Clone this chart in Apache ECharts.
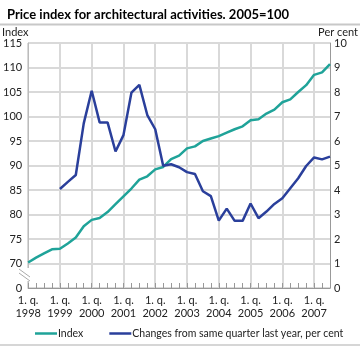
<!DOCTYPE html>
<html><head><meta charset="utf-8">
<script src="https://cdn.jsdelivr.net/npm/echarts@6/dist/echarts.min.js"></script>
<style>html,body{margin:0;padding:0;background:#fff}#c{width:360px;height:346px}</style>
</head><body><div id="c"></div>
<script>
var categories = [
 '1998Q1','1998Q2','1998Q3','1998Q4','1999Q1','1999Q2','1999Q3','1999Q4',
 '2000Q1','2000Q2','2000Q3','2000Q4','2001Q1','2001Q2','2001Q3','2001Q4',
 '2002Q1','2002Q2','2002Q3','2002Q4','2003Q1','2003Q2','2003Q3','2003Q4',
 '2004Q1','2004Q2','2004Q3','2004Q4','2005Q1','2005Q2','2005Q3','2005Q4',
 '2006Q1','2006Q2','2006Q3','2006Q4','2007Q1','2007Q2','2007Q3'];
var indexValues = [
 70.2, 71.2, 72.05, 72.9,
 73.0, 74.1, 75.3, 77.6,
 78.9, 79.3, 80.5, 82.1,
 83.7, 85.3, 87.1, 87.8,
 89.2, 89.7, 91.3, 92.0,
 93.5, 93.9, 95.0, 95.5,
 96.0, 96.7, 97.4, 98.0,
 99.25, 99.45, 100.6, 101.4,
 102.9, 103.5, 105.0, 106.4,
 108.5, 109.0, 110.7];
var changeValues = [
 null, null, null, null,
 4.04, 4.33, 4.61, 6.72,
 8.05, 6.76, 6.76, 5.57,
 6.24, 7.97, 8.29, 7.06,
 6.48, 4.99, 5.05, 4.93,
 4.73, 4.65, 3.95, 3.75,
 2.75, 3.24, 2.74, 2.74,
 3.45, 2.85, 3.12, 3.43,
 3.66, 4.07, 4.48, 4.98,
 5.33, 5.25, 5.36];
var leftTicks = {min: 65, max: 115, step: 5, bottomLabel: '0'};
var rightTicks = {min: 0, max: 10, step: 1};
var seriesNames = ['Index', 'Changes from same quarter last year, per cent'];

var FONT = 'Lato';
var chart = echarts.init(document.getElementById('c'), null, {renderer: 'canvas'});
chart.setOption({
  animation: false,
  title: {text: 'Price index for architectural activities. 2005=100', left: 2, top: 3,
    textStyle: {fontFamily: FONT, fontSize: 13, fontWeight: 'bold', color: '#000'}},
  graphic: [
    {type: 'line', shape: {x1: 0, y1: 24.5, x2: 360, y2: 24.5}, style: {stroke: '#c8c8c8', lineWidth: 2}},
    {type: 'line', shape: {x1: 0, y1: 345, x2: 360, y2: 345}, style: {stroke: '#c8c8c8', lineWidth: 1.5}},
    {type: 'text', left: 2, top: 27, style: {text: 'Index', font: '11px Lato', fill: '#222'}},
    {type: 'text', right: 2, top: 27, style: {text: 'Per cent', font: '11px Lato', fill: '#222'}},
    {type: 'rect', shape: {x: 22, y: 268, width: 9, height: 13}, style: {fill: '#fff'}, z: 100},
    {type: 'line', shape: {x1: 19, y1: 269, x2: 30, y2: 277}, style: {stroke: '#aaa', lineWidth: 1}, z: 101},
    {type: 'line', shape: {x1: 19, y1: 273, x2: 30, y2: 281}, style: {stroke: '#aaa', lineWidth: 1}, z: 101}
  ],
  grid: {left: 27, right: 30, top: 43, bottom: 58, containLabel: false},
  legend: {
    bottom: 2, left: 30, itemWidth: 22, itemHeight: 2.5, itemGap: 26, icon: 'rect',
    textStyle: {fontFamily: FONT, fontSize: 10.5, color: '#222', padding: [0, 0, 0, -4]},
    data: seriesNames
  },
  xAxis: {
    type: 'category', data: categories, boundaryGap: false,
    axisLine: {lineStyle: {color: '#999', width: 1}},
    axisTick: {show: true, inside: true, length: 5, interval: 0, lineStyle: {color: '#999'}},
    axisLabel: {interval: function (i) { return i % 4 === 0; }, fontFamily: FONT, fontSize: 11, color: '#222', lineHeight: 13, margin: 6,
      formatter: function (v) { return '1. q.\n' + v.slice(0, 4); }},
    splitLine: {show: true, interval: function (i) { return i % 4 === 0; }, lineStyle: {color: '#d9d9d9', width: 2}}
  },
  yAxis: [
    {type: 'value', min: leftTicks.min, max: leftTicks.max, interval: leftTicks.step, position: 'left',
      axisLine: {show: true, lineStyle: {color: '#bbb'}}, axisTick: {show: false},
      axisLabel: {fontFamily: FONT, fontSize: 11, color: '#222', margin: 6,
        formatter: function (v) { return v === leftTicks.min ? leftTicks.bottomLabel : String(v); }},
      splitLine: {show: true, lineStyle: {color: '#d9d9d9', width: 2}}},
    {type: 'value', min: rightTicks.min, max: rightTicks.max, interval: rightTicks.step, position: 'right',
      axisLine: {show: true, lineStyle: {color: '#999'}}, axisTick: {show: false},
      axisLabel: {fontFamily: FONT, fontSize: 11, color: '#222', margin: 4},
      splitLine: {show: false}}
  ],
  series: [
    {name: seriesNames[0], type: 'line', yAxisIndex: 0, data: indexValues, showSymbol: false, symbol: 'none',
      lineStyle: {color: '#1fa399', width: 2.5}, itemStyle: {color: '#1fa399'}, z: 3},
    {name: seriesNames[1], type: 'line', yAxisIndex: 1, data: changeValues, showSymbol: false, symbol: 'none',
      lineStyle: {color: '#2a3f9b', width: 2.5}, itemStyle: {color: '#2a3f9b'}, z: 4}
  ]
});
</script></body></html>
